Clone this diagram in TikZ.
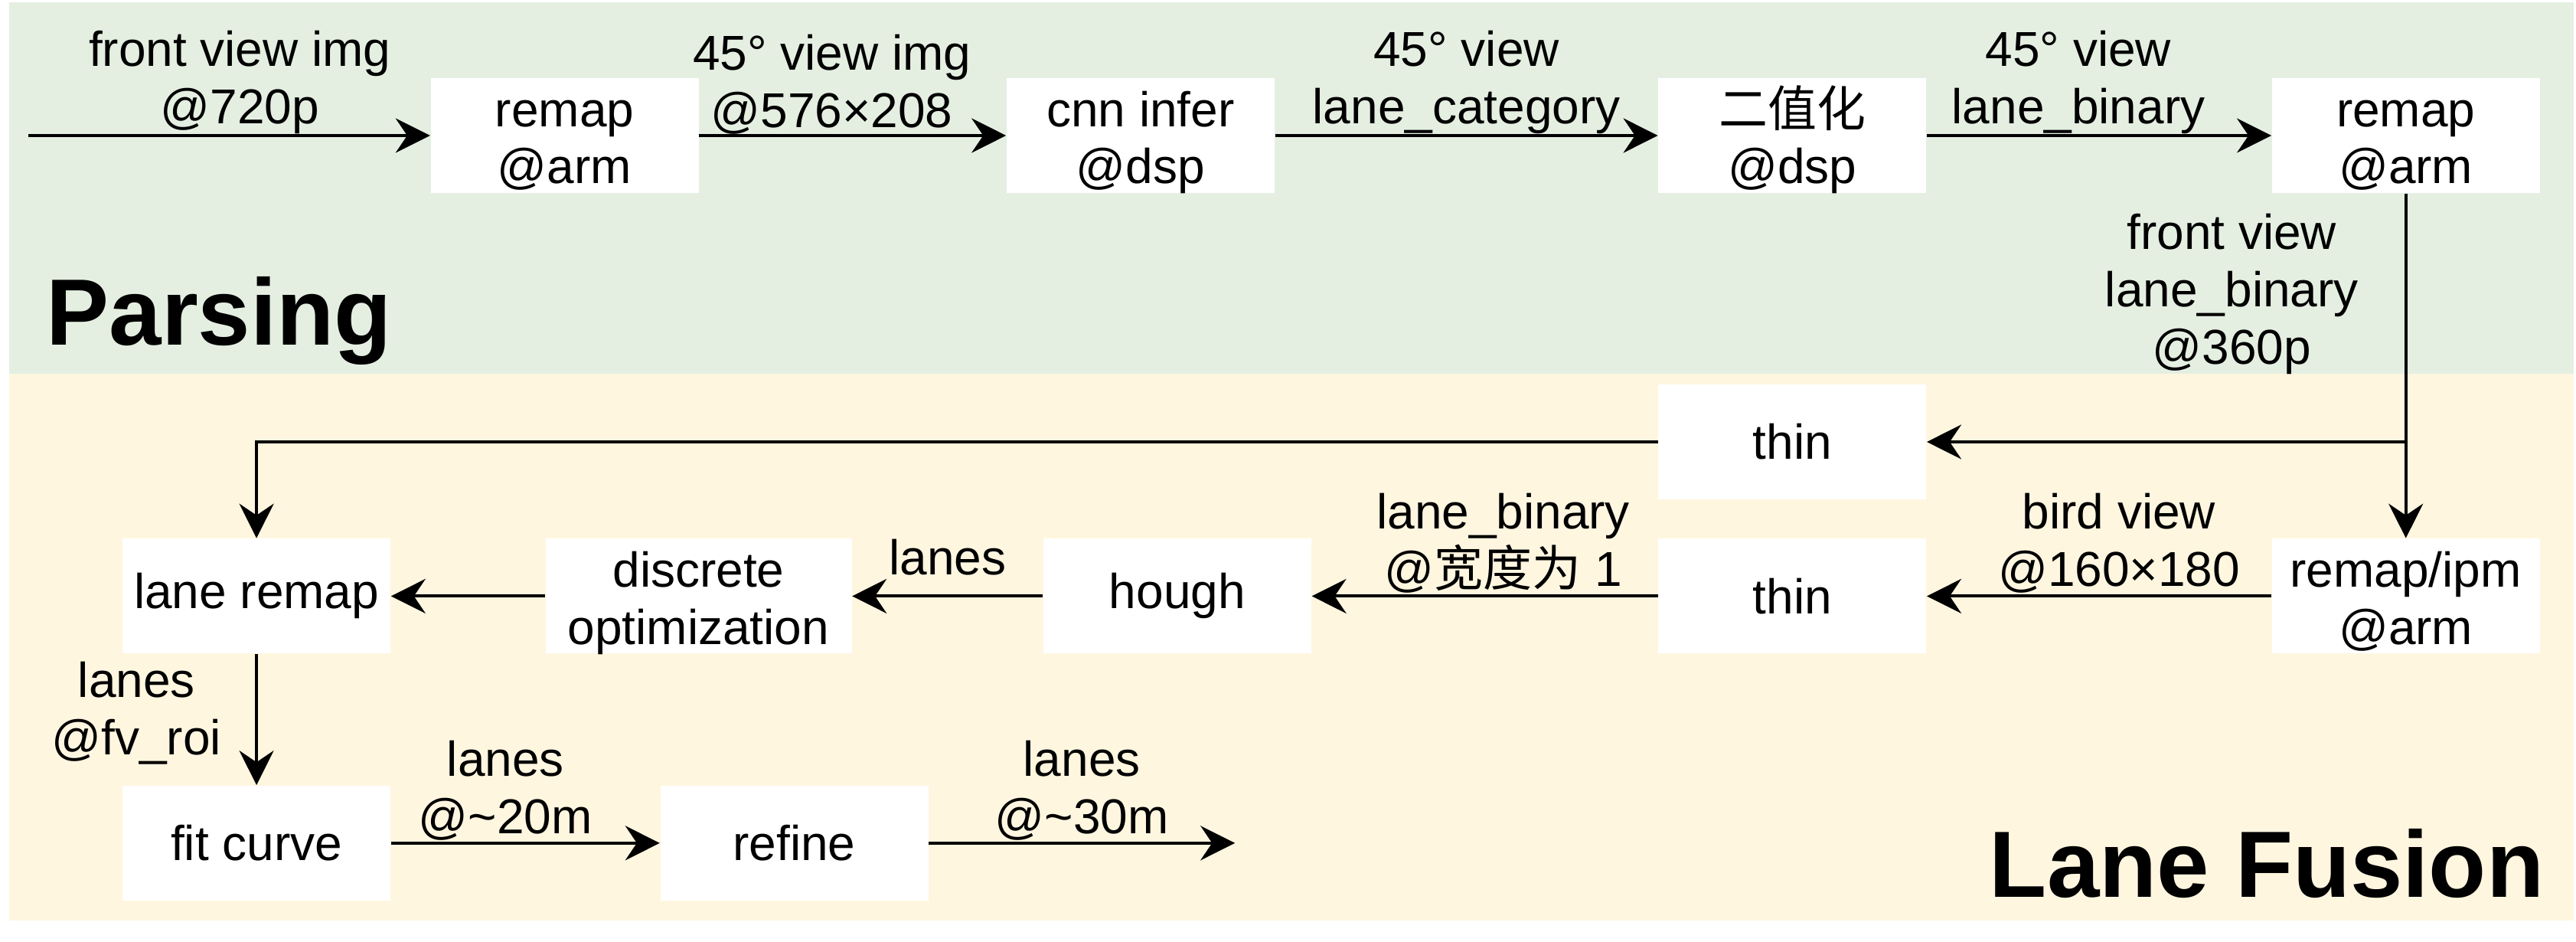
\documentclass[tikz,border=0pt]{standalone}
\usepackage{fontspec}
\setmainfont{Liberation Sans}
\newfontfamily\cjk{Noto Sans CJK SC}
\usepackage{tikz}
\usetikzlibrary{arrows.meta,positioning}
\definecolor{parsingbg}{RGB}{228,239,226}
\definecolor{fusionbg}{RGB}{255,246,224}

\begin{document}
\begin{tikzpicture}[
        font = \fontsize{18.2pt}{21.3pt}\selectfont,
        box/.style = {fill=white, align=center, minimum width=3.5cm, minimum height=1.5cm, inner sep=0pt},
        twobox/.style = {box, text height=38.5pt, text depth=2.7pt},
        link/.style = {draw, line width=1.15pt, -{Stealth[length=12.8pt, width=12.8pt, inset=4.3pt]}},
        lbl/.style = {align=center, inner sep=0pt},
        title/.style = {font=\fontsize{35pt}{40pt}\selectfont\bfseries, inner sep=0pt}
    ]
        \useasboundingbox (0,0) rectangle (33.65,-12.30);
        \fill [parsingbg] (0.12,-0.03) rectangle (33.62,-4.88);
        \fill [fusionbg] (0.12,-4.88) rectangle (33.62,-12.02);
        \node (parsing) [title, anchor=base west] at (0.60,-4.50) {Parsing};
        \node (fusion) [title, anchor=base east] at (33.24,-11.71) {Lane Fusion};

        \node (remapA) [twobox] at (7.375,-1.77) {remap \\ @arm};
        \node (cnn) [twobox, right=4.01cm of remapA] {cnn infer \\ @dsp};
        \node (binar) [twobox, right=5cm of cnn] {{\cjk 二值化} \\ @dsp};
        \node (remapB) [twobox, right=4.5cm of binar] {remap \\ @arm};
        \node (ipm) [twobox, below=4.5cm of remapB] {remap/ipm \\ @arm};
        \node (thinB) [box, left=4.5cm of ipm] {thin};
        \node (thinA) [box, above=0.5cm of thinB] {thin};
        \node (hough) [box, left=4.52cm of thinB] {hough};
        \node (discrete) [twobox, minimum width=4cm, left=2.49cm of hough] {discrete \\ optimization};
        \node (laneremap) [box, left=2.01cm of discrete] {lane remap};
        \node (fit) [box, below=1.71cm of laneremap] {fit curve};
        \node (refine) [box, right=3.51cm of fit] {refine};
        \coordinate [left=5.25cm of remapA] (in);
        \coordinate [right=4cm of refine] (out);
        \coordinate (branch) at (remapB |- thinA);

        \path [link] (in) -- node [lbl, above=0pt, xshift=0.14cm] {front view img \\ @720p} (remapA);
        \path [link] (remapA) -- node [lbl, above=0pt, xshift=-0.27cm] {45° view img \\ @576×208} (cnn);
        \path [link] (cnn) -- node [lbl, above=0pt] {45° view \\ lane\_category} (binar);
        \path [link] (binar) -- node [lbl, above=0pt, xshift=-0.27cm] {45° view \\ lane\_binary} (remapB);
        \path [link] (remapB) -- node [lbl, left=0.6cm, pos=0.292] {front view \\ lane\_binary \\ @360p} (ipm);
        \path [link] (branch) -- (thinA);
        \path [link] (thinA) -| (laneremap);
        \path [link] (ipm) -- node [lbl, above=0.5pt, xshift=0.26cm] {bird view \\ @160×180} (thinB);
        \path [link] (thinB) -- node [lbl, above=0.5pt, xshift=0.24cm] {lane\_binary \\ @{\cjk 宽度为} 1} (hough);
        \path [link] (hough) -- node [lbl, above=0.25cm] {lanes} (discrete);
        \path [link] (discrete) -- (laneremap);
        \path [link] (laneremap) -- node [lbl, left=0.44cm, pos=0.45] {lanes \\ @fv\_roi} (fit);
        \path [link] (fit) -- node [lbl, above=0.5pt, xshift=-0.26cm] {lanes \\ @\textasciitilde 20m} (refine);
        \path [link] (refine) -- node [lbl, above=0.5pt] {lanes \\ @\textasciitilde 30m} (out);
    \end{tikzpicture}
\end{document}
